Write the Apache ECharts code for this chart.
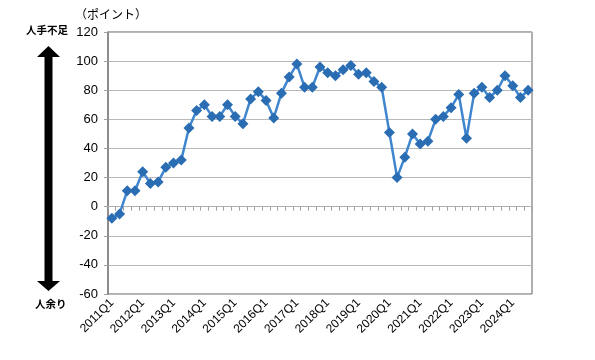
<!DOCTYPE html>
<html><head><meta charset="utf-8">
<script src="https://cdn.jsdelivr.net/npm/echarts@6/dist/echarts.min.js"></script>
<style>html,body{margin:0;padding:0;background:#fff}#c{width:595px;height:360px}</style>
</head><body><div id="c"></div>
<script>
const categories = [
'2011Q1','2011Q2','2011Q3','2011Q4','2012Q1','2012Q2','2012Q3','2012Q4',
'2013Q1','2013Q2','2013Q3','2013Q4','2014Q1','2014Q2','2014Q3','2014Q4',
'2015Q1','2015Q2','2015Q3','2015Q4','2016Q1','2016Q2','2016Q3','2016Q4',
'2017Q1','2017Q2','2017Q3','2017Q4','2018Q1','2018Q2','2018Q3','2018Q4',
'2019Q1','2019Q2','2019Q3','2019Q4','2020Q1','2020Q2','2020Q3','2020Q4',
'2021Q1','2021Q2','2021Q3','2021Q4','2022Q1','2022Q2','2022Q3','2022Q4',
'2023Q1','2023Q2','2023Q3','2023Q4','2024Q1','2024Q2','2024Q3'];
const values = [-8,-5,11,11,24,16,17,27,30,32,54,66,70,62,62,70,62,57,74,79,73,61,78,89,98,82,82,96,92,90,94,97,91,92,86,82,51,20,34,50,43,45,60,62,68,77,47,78,82,75,80,90,83,75,80];
const yMin = -60, yMax = 120, yStep = 20;
const unitLabel = '（ポイント）';
const topLabel = '人手不足';
const bottomLabel = '人余り';

const chart = echarts.init(document.getElementById('c'));
const jp = '"Noto Sans CJK JP", sans-serif';
chart.setOption({
  animation: false,
  grid: {left: 108, right: 63, top: 32, bottom: 66, show: true, borderColor: '#606060', borderWidth: 1, backgroundColor: 'transparent'},
  xAxis: [{
    type: 'category', data: categories, boundaryGap: true,
    axisLine: {show: true, onZero: true, lineStyle: {color: '#b0b0b0', width: 1}},
    axisTick: {show: true, interval: 0, length: 4, inside: false, lineStyle: {color: '#a0a0a0'}},
    axisLabel: {show: false}, splitLine: {show: false}
  }, {
    type: 'category', data: categories, boundaryGap: true, position: 'bottom',
    axisLine: {show: false, onZero: false}, axisTick: {show: false},
    axisLabel: {show: true, interval: 3, rotate: 45, fontSize: 12, color: '#000', fontFamily: '"Liberation Sans", sans-serif', margin: 7},
    splitLine: {show: false}
  }],
  yAxis: {
    type: 'value', min: yMin, max: yMax, interval: yStep,
    axisLine: {show: true, lineStyle: {color: '#808080', width: 1.5}},
    axisTick: {show: true, length: 4, lineStyle: {color: '#a0a0a0'}},
    axisLabel: {fontSize: 13, color: '#000', fontFamily: '"Liberation Sans", sans-serif', margin: 10},
    splitLine: {show: true, lineStyle: {color: '#b8b8b8', width: 1}}
  },
  series: [{
    type: 'line', data: values, xAxisIndex: 0,
    symbol: 'diamond', symbolSize: 11, showAllSymbol: true, showSymbol: true,
    lineStyle: {color: '#3f86cf', width: 2.5},
    itemStyle: {color: '#2a6db3'}
  }],
  graphic: [
    {type: 'text', left: 75, top: 8, style: {text: unitLabel, fontSize: 12, fontFamily: jp, fill: '#000'}},
    {type: 'text', left: 26, top: 25, style: {text: topLabel, fontSize: 10.5, fontWeight: 'bold', fontFamily: jp, fill: '#000'}},
    {type: 'text', left: 35, top: 299, style: {text: bottomLabel, fontSize: 10.5, fontWeight: 'bold', fontFamily: jp, fill: '#000'}},
    {type: 'polygon', shape: {points: [[48.5,46],[37,57],[44.5,57],[44.5,281],[37,281],[48.5,291],[60,281],[52.5,281],[52.5,57],[60,57]]}, style: {fill: '#000'}}
  ]
});
</script></body></html>
